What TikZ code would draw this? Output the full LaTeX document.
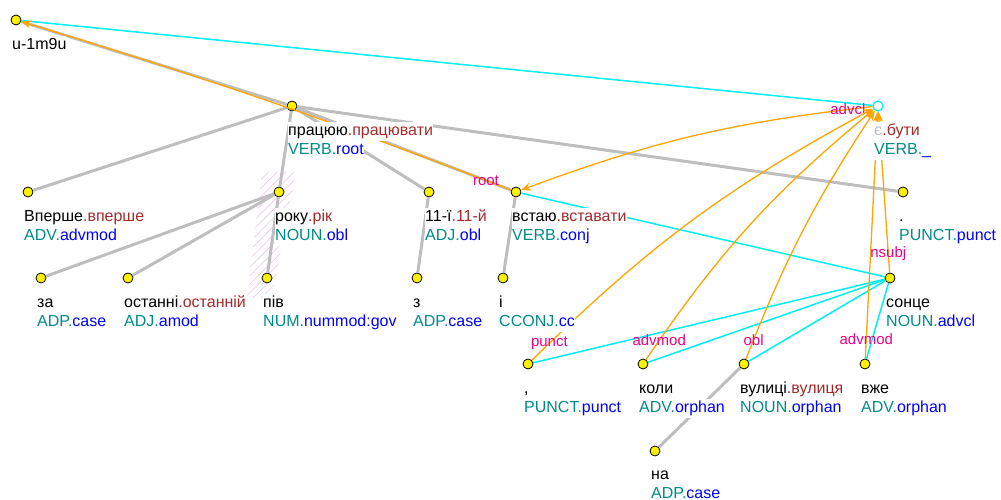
\documentclass[tikz,border=0pt]{standalone}
\usepackage{fontspec}
\setmainfont{Liberation Sans}
\usepackage{xcolor}
\usetikzlibrary{arrows.meta,patterns.meta}
\definecolor{lemmacol}{RGB}{165,42,42}
\definecolor{uposcol}{RGB}{0,139,139}
\definecolor{relcol}{RGB}{0,0,255}
\definecolor{basecol}{RGB}{190,190,190}
\definecolor{enhcol}{RGB}{255,165,0}
\definecolor{linkcol}{RGB}{0,240,240}
\definecolor{hatchcol}{RGB}{232,190,232}
\definecolor{emptyform}{RGB}{190,190,190}
\newcommand{\tokline}[1]{{\setlength{\fboxsep}{0pt}\colorbox{white}{\strut #1}}}

\begin{document}
\begin{tikzpicture}[x=1pt, y=1pt,
  tok/.style={circle, draw=black, fill=yellow, inner sep=0pt, minimum size=10pt, line width=0.8pt},
  emptytok/.style={circle, draw=linkcol, fill=white, inner sep=0pt, minimum size=10pt, line width=1.2pt},
  txt/.style={anchor=north west, inner sep=0pt, align=left, font=\fontsize{16}{19}\selectfont},
  basic/.style={draw=basecol, line width=3pt},
  link/.style={draw=linkcol, line width=1.5pt},
  enh/.style={draw=enhcol, line width=1.3pt, -{Stealth[length=10pt,width=8pt]}},
  rel/.style={text=magenta, inner sep=0pt, font=\fontsize{15}{15}\selectfont}]
  \useasboundingbox (0,0) rectangle (1001,500);

  \fill[pattern={Lines[angle=45,distance=6pt,line width=0.5pt]}, pattern color=hatchcol]
    (262,328) -- (296,328) -- (272,202) -- (247,202) -- cycle;

  \node[tok] (root) at (16,480) {};
  \node[tok] (prac) at (292,394) {};
  \node[emptytok] (ye) at (878,394) {};
  \node[tok] (vpershe) at (28,308) {};
  \node[tok] (roku) at (279,308) {};
  \node[tok] (odyn) at (429,308) {};
  \node[tok] (vstayu) at (516,308) {};
  \node[tok] (dot) at (903,308) {};
  \node[tok] (za) at (41,222) {};
  \node[tok] (ostanni) at (128,222) {};
  \node[tok] (piv) at (267,222) {};
  \node[tok] (z) at (417,222) {};
  \node[tok] (i) at (503,222) {};
  \node[tok] (sonce) at (890,222) {};
  \node[tok] (koma) at (528,136) {};
  \node[tok] (koly) at (643,136) {};
  \node[tok] (vulyci) at (744,136) {};
  \node[tok] (vzhe) at (865,136) {};
  \node[tok] (na) at (655,49) {};

  \draw[basic] (root) -- (prac);
  \draw[basic] (prac) -- (vpershe);
  \draw[basic] (prac) -- (roku);
  \draw[basic] (prac) -- (odyn);
  \draw[basic] (prac) -- (vstayu);
  \draw[basic] (prac) -- (dot);
  \draw[basic] (roku) -- (za);
  \draw[basic] (roku) -- (ostanni);
  \draw[basic] (roku) -- (piv);
  \draw[basic] (odyn) -- (z);
  \draw[basic] (vstayu) -- (i);
  \draw[basic] (vulyci) -- (na);

  \draw[link] (root) -- (ye);
  \draw[link] (vstayu) -- (sonce);
  \draw[link] (sonce) -- (koma);
  \draw[link] (sonce) -- (koly);
  \draw[link] (sonce) -- (vulyci);
  \draw[link] (sonce) -- (vzhe);

  \draw[enh] (vstayu) to[bend right=2] node[rel, pos=.045] {root} (root);
  \draw[enh] (ye) to[bend right=7] node[rel, pos=.06] {advcl} (vstayu);
  \draw[enh] (koma) to[bend left=8] node[rel, pos=.05] {punct} (ye);
  \draw[enh] (koly) to[bend left=8] node[rel, pos=.06] {advmod} (ye);
  \draw[enh] (vulyci) to[bend left=6] node[rel, pos=.065] {obl} (ye);
  \draw[enh] (vzhe) -- node[rel, pos=.08] {advmod} (ye);
  \draw[enh] (sonce) -- node[rel, pos=.12] {nsubj} (ye);

  \node[txt] (root-t) at (12,464) {\tokline{u-1m9u}};
  \node[txt] (prac-t) at (288,378) {\tokline{працюю\textcolor{lemmacol}{.працювати}}\\\tokline{\textcolor{uposcol}{VERB.}\textcolor{relcol}{root}}};
  \node[txt] (ye-t) at (874,378) {\tokline{\textcolor{emptyform}{є}\textcolor{lemmacol}{.бути}}\\\tokline{\textcolor{uposcol}{VERB.}\textcolor{relcol}{\_}}};
  \node[txt] (vpershe-t) at (24,292) {\tokline{Вперше\textcolor{lemmacol}{.вперше}}\\\tokline{\textcolor{uposcol}{ADV.}\textcolor{relcol}{advmod}}};
  \node[txt] (roku-t) at (275,292) {\tokline{року\textcolor{lemmacol}{.рік}}\\\tokline{\textcolor{uposcol}{NOUN.}\textcolor{relcol}{obl}}};
  \node[txt] (odyn-t) at (425,292) {\tokline{11-ї\textcolor{lemmacol}{.11-й}}\\\tokline{\textcolor{uposcol}{ADJ.}\textcolor{relcol}{obl}}};
  \node[txt] (vstayu-t) at (512,292) {\tokline{встаю\textcolor{lemmacol}{.вставати}}\\\tokline{\textcolor{uposcol}{VERB.}\textcolor{relcol}{conj}}};
  \node[txt] (dot-t) at (899,292) {\tokline{.}\\\tokline{\textcolor{uposcol}{PUNCT.}\textcolor{relcol}{punct}}};
  \node[txt] (za-t) at (37,206) {\tokline{за}\\\tokline{\textcolor{uposcol}{ADP.}\textcolor{relcol}{case}}};
  \node[txt] (ostanni-t) at (124,206) {\tokline{останні\textcolor{lemmacol}{.останній}}\\\tokline{\textcolor{uposcol}{ADJ.}\textcolor{relcol}{amod}}};
  \node[txt] (piv-t) at (263,206) {\tokline{пів}\\\tokline{\textcolor{uposcol}{NUM.}\textcolor{relcol}{nummod:gov}}};
  \node[txt] (z-t) at (413,206) {\tokline{з}\\\tokline{\textcolor{uposcol}{ADP.}\textcolor{relcol}{case}}};
  \node[txt] (i-t) at (499,206) {\tokline{і}\\\tokline{\textcolor{uposcol}{CCONJ.}\textcolor{relcol}{cc}}};
  \node[txt] (sonce-t) at (886,206) {\tokline{сонце}\\\tokline{\textcolor{uposcol}{NOUN.}\textcolor{relcol}{advcl}}};
  \node[txt] (koma-t) at (524,120) {\tokline{,}\\\tokline{\textcolor{uposcol}{PUNCT.}\textcolor{relcol}{punct}}};
  \node[txt] (koly-t) at (639,120) {\tokline{коли}\\\tokline{\textcolor{uposcol}{ADV.}\textcolor{relcol}{orphan}}};
  \node[txt] (vulyci-t) at (740,120) {\tokline{вулиці\textcolor{lemmacol}{.вулиця}}\\\tokline{\textcolor{uposcol}{NOUN.}\textcolor{relcol}{orphan}}};
  \node[txt] (vzhe-t) at (861,120) {\tokline{вже}\\\tokline{\textcolor{uposcol}{ADV.}\textcolor{relcol}{orphan}}};
  \node[txt] (na-t) at (651,34) {\tokline{на}\\\tokline{\textcolor{uposcol}{ADP.}\textcolor{relcol}{case}}};
\end{tikzpicture}
\end{document}
